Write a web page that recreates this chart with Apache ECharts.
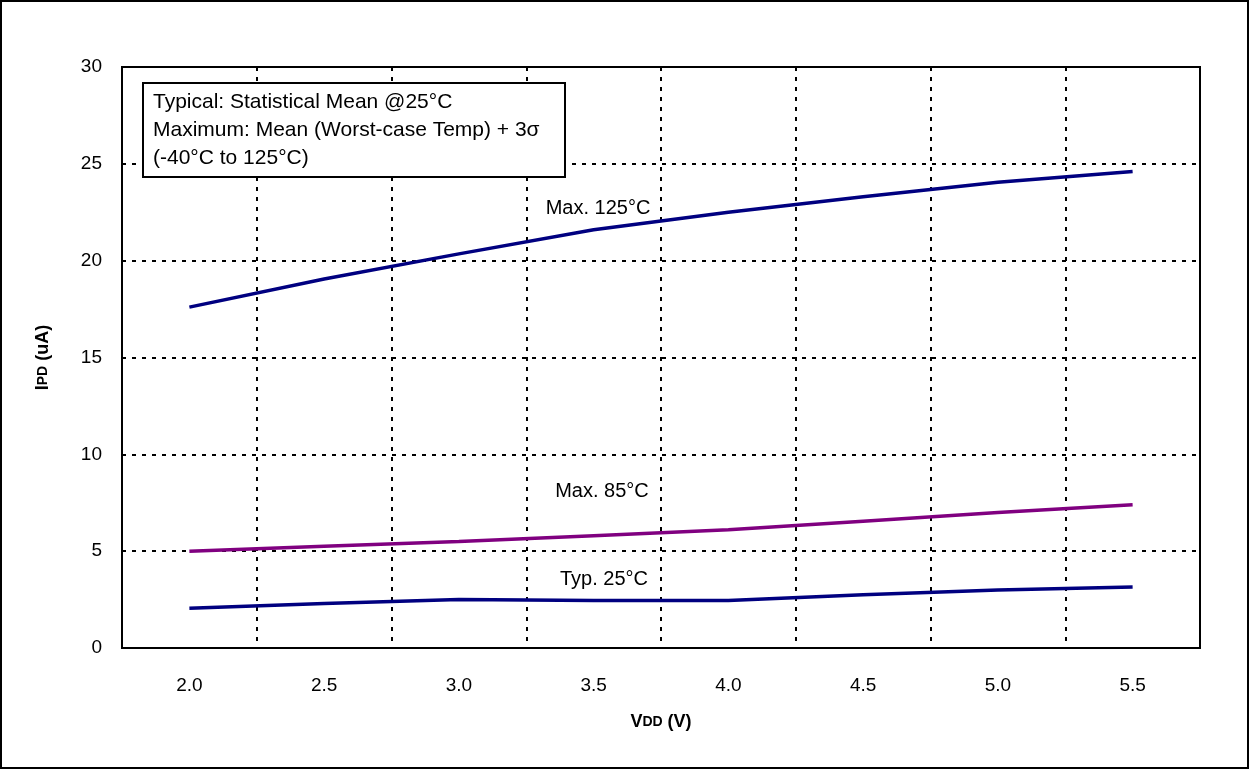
<!DOCTYPE html>
<html>
<head>
<meta charset="utf-8">
<script src="https://cdn.jsdelivr.net/npm/echarts@6/dist/echarts.min.js"></script>
<style>
  html, body { margin: 0; padding: 0; background: #fff; }
  #graph { width: 1249px; height: 769px; }
</style>
</head>
<body>
<div id="graph"></div>
<script>
// supply voltage categories
var vdd = ['2.0', '2.5', '3.0', '3.5', '4.0', '4.5', '5.0', '5.5'];

// IPD readings (uA)
var max125 = [17.6, 19.05, 20.35, 21.6, 22.5, 23.3, 24.05, 24.6];
var max85 = [5.0, 5.25, 5.5, 5.8, 6.1, 6.55, 7.0, 7.4];
var typ25 = [2.05, 2.3, 2.5, 2.45, 2.45, 2.75, 3.0, 3.15];

var yTicks = [0, 5, 10, 15, 20, 25, 30];

var noteLines = [
  'Typical: Statistical Mean @25°C',
  'Maximum: Mean (Worst-case Temp) + 3σ',
  '(-40°C to 125°C)'
];

var font = 'Arial, "Liberation Sans", sans-serif';

var dom = document.getElementById('graph');
var myChart = echarts.init(dom);
var option = null;

var nameRich = {
  a: { fontFamily: font, fontWeight: 'bold', fontSize: 18, color: '#000' },
  b: { fontFamily: font, fontWeight: 'bold', fontSize: 14, color: '#000' }
};

option = {
  backgroundColor: '#fff',
  animation: false,
  grid: {
    left: 122,
    right: 49,
    top: 67,
    bottom: 121,
    show: true,
    borderColor: '#000',
    borderWidth: 2
  },
  xAxis: {
    type: 'category',
    data: vdd,
    boundaryGap: true,
    name: '{a|V}{b|DD}{a| (V)}',
    nameLocation: 'middle',
    nameGap: 65,
    nameTextStyle: { rich: nameRich },
    axisLine: { lineStyle: { color: '#000', width: 2 } },
    axisTick: { show: false },
    axisLabel: { color: '#000', fontSize: 19, fontFamily: font, margin: 28 },
    splitLine: {
      show: true,
      lineStyle: { color: '#000', type: [4, 6], width: 2 }
    }
  },
  yAxis: {
    type: 'value',
    min: yTicks[0],
    max: yTicks[yTicks.length - 1],
    interval: 5,
    name: '{a|I}{b|PD}{a| (uA)}',
    nameLocation: 'middle',
    nameGap: 70,
    nameTextStyle: { rich: nameRich },
    axisLine: { show: true, lineStyle: { color: '#000', width: 2 } },
    axisTick: { show: false },
    axisLabel: { color: '#000', fontSize: 19, fontFamily: font, margin: 20 },
    splitLine: {
      show: true,
      lineStyle: { color: '#000', type: [4, 6], width: 2 }
    }
  },
  series: [
    {
      name: 'Max. 125°C',
      type: 'line',
      data: max125,
      symbol: 'none',
      lineStyle: { color: '#000080', width: 3.5 },
      z: 5
    },
    {
      name: 'Max. 85°C',
      type: 'line',
      data: max85,
      symbol: 'none',
      lineStyle: { color: '#800080', width: 3.5 },
      z: 5
    },
    {
      name: 'Typ. 25°C',
      type: 'line',
      data: typ25,
      symbol: 'none',
      lineStyle: { color: '#000080', width: 3.5 },
      z: 5
    }
  ],
  graphic: [
    // outer frame
    {
      type: 'rect',
      shape: { x: 1, y: 1, width: 1247, height: 767 },
      style: { fill: 'none', stroke: '#000', lineWidth: 2 },
      silent: true
    },
    // note box
    {
      type: 'rect',
      shape: { x: 143, y: 83, width: 422, height: 94 },
      style: { fill: '#fff', stroke: '#000', lineWidth: 2 },
      z: 10
    },
    {
      type: 'text',
      x: 153,
      y: 88,
      z: 11,
      style: {
        text: noteLines.join('\n'),
        fill: '#000',
        font: '21px ' + font,
        lineHeight: 28
      }
    },
    // curve labels
    {
      type: 'text', x: 598, y: 208, z: 11,
      style: { text: 'Max. 125°C', fill: '#000', font: '20px ' + font, align: 'center', verticalAlign: 'middle' }
    },
    {
      type: 'text', x: 602, y: 491, z: 11,
      style: { text: 'Max. 85°C', fill: '#000', font: '20px ' + font, align: 'center', verticalAlign: 'middle' }
    },
    {
      type: 'text', x: 604, y: 579, z: 11,
      style: { text: 'Typ. 25°C', fill: '#000', font: '20px ' + font, align: 'center', verticalAlign: 'middle' }
    }
  ]
};

if (option && typeof option === 'object') {
  myChart.setOption(option, true);
}
</script>
</body>
</html>
